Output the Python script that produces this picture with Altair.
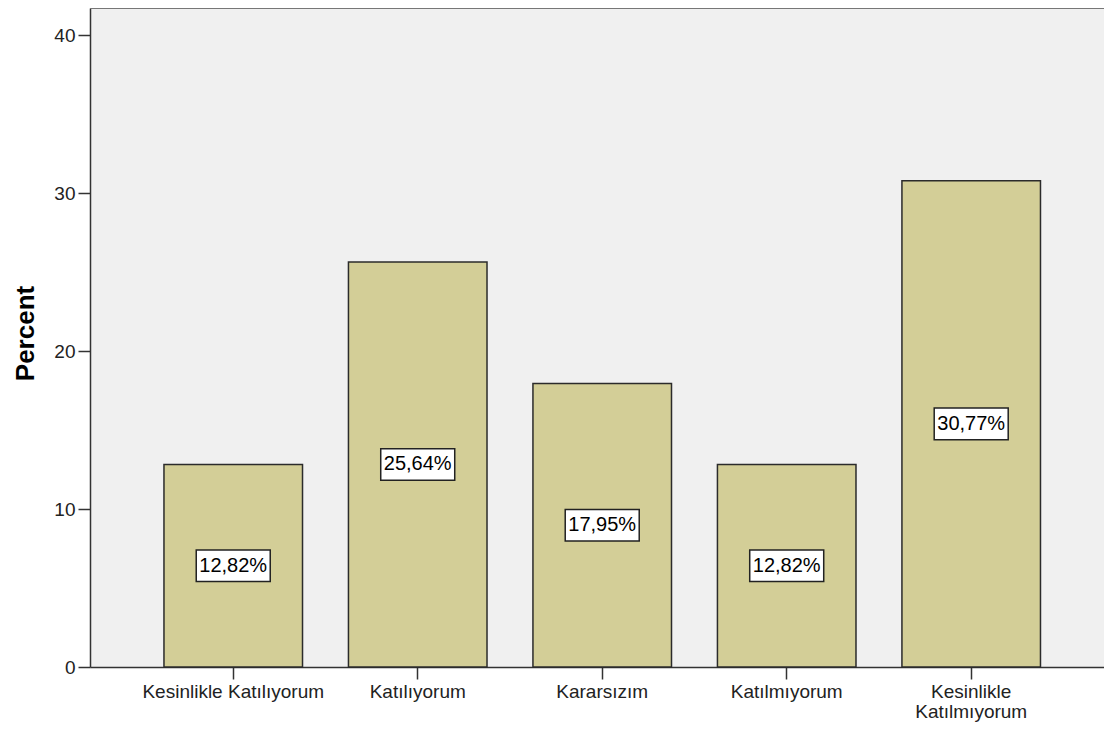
import altair as alt
import pandas as pd

categories = ["Kesinlikle Katılıyorum", "Katılıyorum", "Kararsızım", "Katılmıyorum", "Kesinlikle Katılmıyorum"]
percents = [12.82, 25.64, 17.95, 12.82, 30.77]
labels = [f"{v:.2f}".replace(".", ",") + "%" for v in percents]
y_ticks = [0, 10, 20, 30, 40]

df = pd.DataFrame({"cat": categories, "pct": percents, "label": labels})

FONT = "Liberation Sans"
AXC = "#333333"
W, H = 1014, 659

x_enc = alt.X(
    "cat:N",
    sort=categories,
    scale=alt.Scale(paddingInner=0.249, paddingOuter=0.3726, align=0.538),
    axis=alt.Axis(
        title=None, labelAngle=0, labelFontSize=19, labelFont=FONT, labelColor="#222222",
        labelPadding=3, tickSize=12, tickColor=AXC, tickWidth=1.5, domainColor=AXC,
        domainWidth=1.5, labelLimit=400, labelOverlap=False, labelLineHeight=20,
        labelExpr="datum.value == 'Kesinlikle Katılmıyorum' ? ['Kesinlikle', 'Katılmıyorum'] : datum.label",
    ),
)

y_scale = alt.Scale(domain=[0, 41.71], nice=False, zero=True)
y_axis = alt.Axis(
    title="Percent", values=y_ticks, grid=False,
    titleFont=FONT, titleFontSize=26, titleFontWeight="bold", titleColor="#000000",
    titleAngle=270, titleX=-57, titleY=325, titleAlign="center", titleBaseline="alphabetic",
    labelFont=FONT, labelFontSize=19, labelColor="#222222", labelPadding=3,
    tickSize=12, tickColor=AXC, tickWidth=1.5, domainColor=AXC, domainWidth=1.5,
)

base = alt.Chart(df)

bars = base.mark_bar(fill="#D3CE97", stroke="#2b2b2b", strokeWidth=1.5).encode(
    x=x_enc,
    y=alt.Y("pct:Q", scale=y_scale, axis=y_axis),
)

boxes = base.transform_calculate(
    lo="datum.pct / 2 - 1.0", hi="datum.pct / 2 + 1.0"
).mark_bar(width=74, fill="white", stroke="#222222", strokeWidth=1.5).encode(
    x=alt.X("cat:N", sort=categories),
    y=alt.Y("lo:Q"),
    y2="hi:Q",
)

texts = base.transform_calculate(mid="datum.pct / 2").mark_text(
    font=FONT, fontSize=20, color="#000000", baseline="middle", align="center"
).encode(
    x=alt.X("cat:N", sort=categories),
    y=alt.Y("mid:Q"),
    text="label:N",
)

top_border = alt.Chart(pd.DataFrame({"a": [0]})).mark_rule(color="#777777", strokeWidth=2).encode(
    x=alt.value(0), x2=alt.value(W), y=alt.value(0)
)

chart = alt.layer(bars, boxes, texts, top_border).properties(
    width=W,
    height=H,
    padding={"left": 82, "top": 0, "right": 0, "bottom": 56},
    autosize=alt.AutoSizeParams(type="none"),
).configure_view(fill="#F0F0F0", stroke=None)

chart.save("out.html", embed_options={"renderer": "svg", "actions": False})
